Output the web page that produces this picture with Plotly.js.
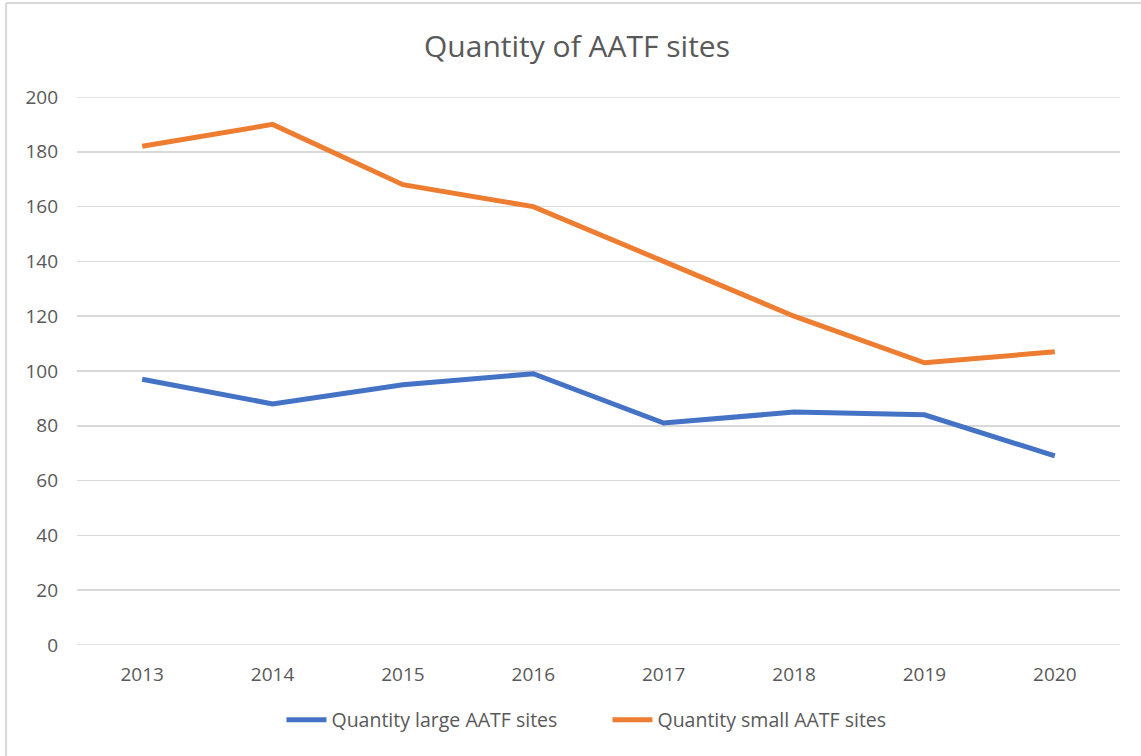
<!DOCTYPE html>
<html>
<head>
<meta charset="utf-8">
<script src="https://cdn.plot.ly/plotly-3.0.1.min.js"></script>
<style>html,body{margin:0;padding:0;background:#fff;}#chart{width:1141px;height:756px;}</style>
</head>
<body>
<div id="chart"></div>
<script>
const years = ["2013","2014","2015","2016","2017","2018","2019","2020"];
const largeSites = [97, 88, 95, 99, 81, 85, 84, 69];
const smallSites = [182, 190, 168, 160, 140, 120, 103, 107];
const yTicks = [0, 20, 40, 60, 80, 100, 120, 140, 160, 180, 200];

const FONT = "Open Sans, Noto Sans, sans-serif";
const TXT = "#595959";
const GRID = "#d9d9d9";

const traces = [
  {x: years, y: largeSites, type: "scatter", mode: "lines", name: "Quantity large AATF sites",
   line: {color: "#4472C4", width: 5, shape: "linear"}},
  {x: years, y: smallSites, type: "scatter", mode: "lines", name: "Quantity small AATF sites",
   line: {color: "#ED7D31", width: 5, shape: "linear"}}
];

const layout = {
  width: 1141, height: 756,
  paper_bgcolor: "#fff", plot_bgcolor: "#fff",
  margin: {l: 77, r: 21, t: 97, b: 111},
  font: {family: FONT, color: TXT, size: 19},
  title: {text: "Quantity of AATF sites", font: {family: FONT, size: 30, color: TXT},
          xref: "container", x: 0.5057, xanchor: "center", yref: "container", y: 0.938, yanchor: "middle"},
  xaxis: {type: "category", range: [-0.5, 7.5], showgrid: false, zeroline: false, showline: false,
          ticks: "", tickfont: {family: FONT, size: 19, color: TXT}, ticklabelstandoff: 16, fixedrange: true},
  yaxis: {range: [0, 200], tickvals: yTicks, ticktext: yTicks.map(String), showgrid: true,
          gridcolor: GRID, gridwidth: 1.5, zeroline: false, showline: false, ticks: "",
          tickfont: {family: FONT, size: 19, color: TXT}, ticklabelstandoff: 18, fixedrange: true},
  showlegend: true,
  legend: {orientation: "h", x: 0.5086, xanchor: "center", y: -0.137, yanchor: "middle",
           font: {family: FONT, size: 19.5, color: TXT}, itemwidth: 40, entrywidth: 271,
           bgcolor: "rgba(0,0,0,0)"},
  shapes: [
    {type: "line", xref: "paper", yref: "y", x0: 0, x1: 1, y0: yTicks[0], y1: yTicks[0],
     line: {color: GRID, width: 1.5}, layer: "below"},
    {type: "line", xref: "paper", yref: "y", x0: 0, x1: 1, y0: yTicks[yTicks.length - 1], y1: yTicks[yTicks.length - 1],
     line: {color: GRID, width: 1.5}, layer: "below"},
    {type: "line", xref: "paper", yref: "paper", x0: -0.068, x1: 1.03, y0: 1.1715, y1: 1.1715,
     line: {color: GRID, width: 2}},
    {type: "line", xref: "paper", yref: "paper", x0: -0.068, x1: -0.068, y0: 1.1715, y1: -0.21,
     line: {color: GRID, width: 2}}
  ]
};

Plotly.newPlot("chart", traces, layout, {displayModeBar: false, staticPlot: true});
</script>
</body>
</html>
